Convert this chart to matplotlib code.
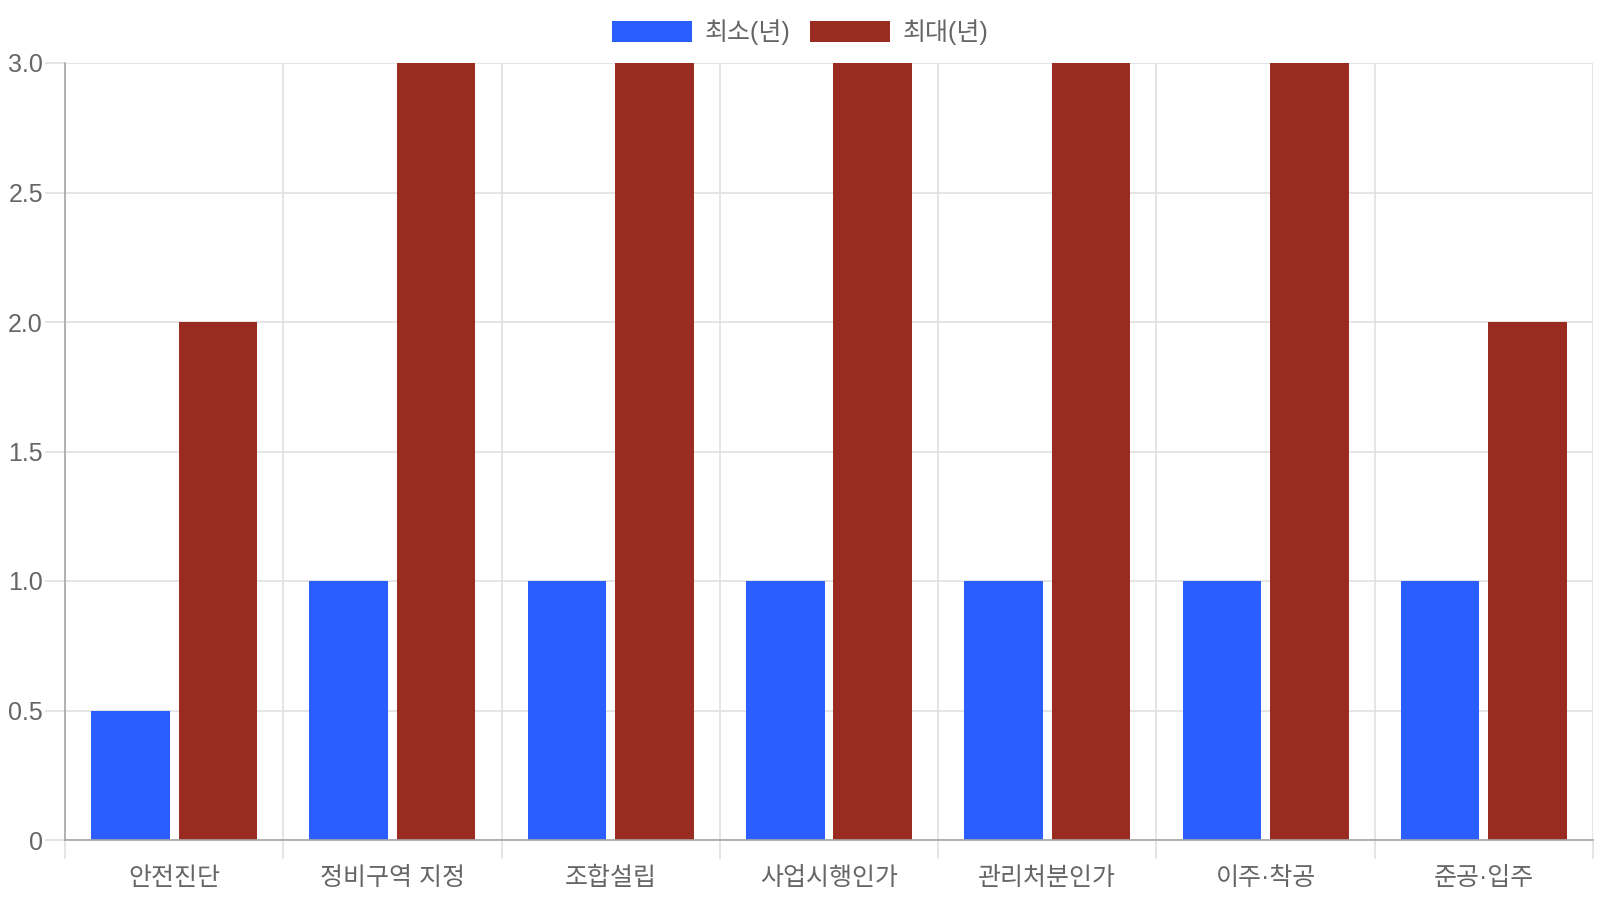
import matplotlib.pyplot as plt
import numpy as np

plt.rcParams['font.family'] = ['Liberation Sans', 'Noto Sans CJK KR', 'DejaVu Sans']

stages = ['안전진단', '정비구역 지정', '조합설립', '사업시행인가', '관리처분인가', '이주·착공', '준공·입주']
min_years = [0.5, 1, 1, 1, 1, 1, 1]
max_years = [2, 3, 3, 3, 3, 3, 2]
series_labels = ['최소(년)', '최대(년)']
yticks = [0, 0.5, 1.0, 1.5, 2.0, 2.5, 3.0]
ytick_labels = ['0', '0.5', '1.0', '1.5', '2.0', '2.5', '3.0']

blue = '#2b5eff'
red = '#992b21'
grid_c = '#e0e0e0'
axis_c = '#a6a6a6'
text_c = '#666666'

fig = plt.figure(figsize=(16, 9), dpi=100)
ax = fig.add_axes([65 / 1600, 60 / 900, 1528 / 1600, 777 / 900])

x = np.arange(len(stages))
w = 0.36
ax.bar(x - 0.2, min_years, w, color=blue, label=series_labels[0], zorder=3)
ax.bar(x + 0.2, max_years, w, color=red, label=series_labels[1], zorder=3)

ax.set_xlim(-0.5, len(stages) - 0.5)
ax.set_ylim(0, 3.0)

ax.set_yticks(yticks)
ax.set_yticklabels(ytick_labels)
ax.set_xticks(x)
ax.set_xticklabels(stages)
ax.set_xticks(np.arange(-0.5, len(stages)), minor=True)

# tick lengths in points (dpi 100 -> 0.72 pt per px)
ax.tick_params(axis='y', length=14.4, width=1.2, color=grid_c, labelsize=18, labelcolor=text_c, pad=1.5)
ax.tick_params(axis='x', which='major', length=0, labelsize=18, labelcolor=text_c, pad=19)
ax.tick_params(axis='x', which='minor', length=13.7, width=1.2, color=grid_c)

ax.grid(axis='y', color=grid_c, linewidth=1.2, zorder=0)
ax.grid(axis='x', which='minor', color=grid_c, linewidth=1.2, zorder=0)

for s in ['top', 'right']:
    ax.spines[s].set_visible(False)
for s in ['left', 'bottom']:
    ax.spines[s].set_color(axis_c)
    ax.spines[s].set_linewidth(1.2)
    ax.spines[s].set_zorder(4)

leg = fig.legend(loc='center', bbox_to_anchor=(0.5, 1.0 - 32 / 900), ncol=2, frameon=False,
                 fontsize=18, handlelength=3.2, handleheight=0.92, handletextpad=0.5,
                 columnspacing=0.8, borderpad=0)
for t in leg.get_texts():
    t.set_color(text_c)

fig.savefig('out.png', dpi=100)
